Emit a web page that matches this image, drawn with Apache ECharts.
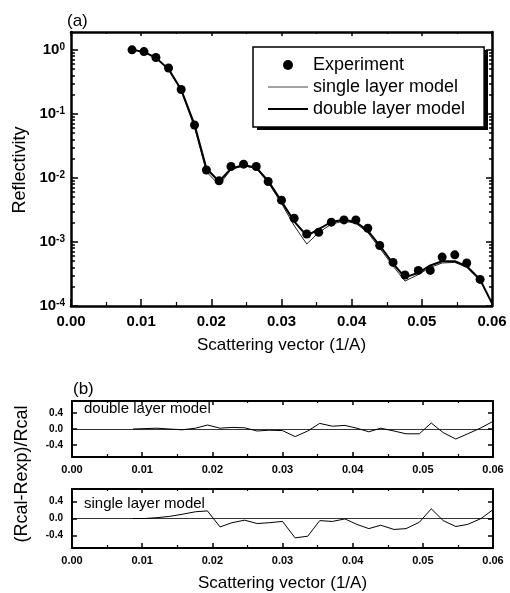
<!DOCTYPE html>
<html>
<head>
<meta charset="utf-8">
<script src="https://cdn.jsdelivr.net/npm/echarts@6/dist/echarts.min.js"></script>
<style>
  html, body { margin: 0; padding: 0; background: #fff; }
  #chart { width: 510px; height: 593px; }
</style>
</head>
<body>
<div id="chart"></div>
<script>
// Scattering vector of the measured points (1/A)
const qExp = [0.0087, 0.0104, 0.0121, 0.0139, 0.0157, 0.0176, 0.0193, 0.0211, 0.0228, 0.0246,
  0.0264, 0.0281, 0.0300, 0.0318, 0.0336, 0.0353, 0.0371, 0.0389, 0.0406, 0.0423,
  0.0440, 0.0459, 0.0476, 0.0495, 0.0512, 0.0529, 0.0547, 0.0564, 0.0583];
// Measured reflectivity
const rExp = [1.0, 0.94, 0.76, 0.52, 0.24, 0.067, 0.0133, 0.0090, 0.0151, 0.0164,
  0.0151, 0.0088, 0.0045, 0.00235, 0.00133, 0.00142, 0.00204, 0.00221, 0.00221, 0.00164,
  0.00088, 0.00048, 0.000305, 0.00036, 0.00036, 0.00058, 0.00063, 0.00047, 0.00026];
// Scattering vector of the model curves and residuals
const qModel = [0.0087, 0.0104, 0.0121, 0.0139, 0.0157, 0.0176, 0.0193, 0.0211, 0.0228, 0.0246,
  0.0264, 0.0281, 0.0300, 0.0318, 0.0336, 0.0353, 0.0371, 0.0389, 0.0406, 0.0423,
  0.0440, 0.0459, 0.0476, 0.0495, 0.0512, 0.0529, 0.0547, 0.0564, 0.0583, 0.0600];
const rSingle = [1.0, 0.93, 0.75, 0.50, 0.23, 0.062, 0.0125, 0.0078, 0.0135, 0.0155,
  0.0140, 0.0085, 0.0040, 0.0018, 0.00093, 0.00140, 0.00190, 0.00212, 0.00195, 0.00140,
  0.00080, 0.00042, 0.000245, 0.00031, 0.00040, 0.00047, 0.00048, 0.00040, 0.00025, 0.00011];
const rDouble = [1.0, 0.93, 0.75, 0.50, 0.24, 0.068, 0.0140, 0.0088, 0.0140, 0.0158,
  0.0145, 0.0090, 0.0043, 0.0021, 0.00125, 0.00158, 0.00205, 0.00222, 0.00205, 0.00150,
  0.00088, 0.00046, 0.00028, 0.00033, 0.00043, 0.00050, 0.00050, 0.00042, 0.00026, 0.00011];
// Relative residuals (Rcal-Rexp)/Rcal
const resDouble = [0.00, 0.01, 0.02, 0.00, -0.02, 0.02, 0.10, 0.02, 0.04, 0.03,
  -0.05, -0.03, -0.04, -0.19, -0.05, 0.14, 0.07, 0.09, 0.02, -0.07,
  0.02, -0.05, -0.12, -0.12, 0.15, -0.09, -0.25, -0.12, 0.03, 0.19];
const resSingle = [0.00, 0.00, 0.02, 0.05, 0.10, 0.16, 0.18, -0.20, -0.10, -0.04,
  -0.12, -0.10, -0.07, -0.46, -0.42, -0.05, -0.07, -0.01, -0.14, -0.24,
  -0.16, -0.26, -0.24, -0.09, 0.23, -0.05, -0.19, -0.14, 0.00, 0.21];

// Axis ticks
const decadeTicks = [1e-4, 1e-3, 1e-2, 1e-1, 1];
const minorMultipliers = [2, 3, 4, 5, 6, 7, 8, 9];
const minorLogTicks = [];
decadeTicks.slice(0, 4).forEach(d => minorMultipliers.forEach(m => minorLogTicks.push(+(d * m).toPrecision(3))));
const residualTicks = [-0.4, 0, 0.4];

const FONT = '"Liberation Sans", Arial, sans-serif';
const pairs = (xs, ys) => xs.map((x, i) => [x, ys[i]]);

const chart = echarts.init(document.getElementById('chart'), null, { renderer: 'canvas' });

function xAxisDef(gridIndex, position, opts) {
  const bottom = position === 'bottom';
  return Object.assign({
    type: 'value', gridIndex, position, min: 0, max: 0.06, interval: 0.01,
    splitLine: { show: false },
    axisLine: { onZero: false, lineStyle: { color: '#000', width: 2.5 } },
    axisTick: { inside: true, length: bottom ? 7 : 4, lineStyle: { color: '#000', width: 1.5 } },
    minorTick: { show: true, splitNumber: 2, length: bottom ? 4 : 2, lineStyle: { color: '#000', width: 1.2 } },
    axisLabel: bottom ? {
      margin: 8, color: '#000', fontFamily: FONT, fontSize: 15, fontWeight: 'bold',
      formatter: v => v.toFixed(2)
    } : { show: false }
  }, opts || {});
}

function logAxisDef(position, ticks, len, withLine, withLabels) {
  return {
    type: 'log', gridIndex: 0, position, min: 1e-4, max: 1.9, logBase: 10,
    splitLine: { show: false },
    axisLine: { show: withLine, onZero: false, lineStyle: { color: '#000', width: 2.5 } },
    axisTick: { inside: true, length: len, customValues: ticks, lineStyle: { color: '#000', width: 1.5 } },
    axisLabel: withLabels ? {
      customValues: decadeTicks, margin: 6, color: '#000', fontFamily: FONT,
      formatter: v => '{b|10}{e|' + Math.round(Math.log10(v)) + '}',
      rich: {
        b: { fontSize: 15, fontFamily: FONT, fontWeight: 'bold', color: '#000', lineHeight: 16 },
        e: { fontSize: 10, fontFamily: FONT, fontWeight: 'bold', color: '#000', verticalAlign: 'top', lineHeight: 10 }
      }
    } : { show: false }
  };
}

function resAxisDef(gridIndex, position, withLabels) {
  return {
    type: 'value', gridIndex, position, min: -0.7, max: 0.7,
    splitLine: { show: false },
    axisLine: { onZero: false, lineStyle: { color: '#000', width: 2 } },
    axisTick: { inside: true, length: 5, customValues: residualTicks, lineStyle: { color: '#000', width: 1.5 } },
    axisLabel: withLabels ? {
      customValues: residualTicks, margin: 9, color: '#000', fontFamily: FONT,
      fontSize: 10, fontWeight: 'bold', formatter: v => v.toFixed(1)
    } : { show: false }
  };
}

const smallX = { axisLine: { onZero: false, lineStyle: { color: '#000', width: 2 } } };
const smallBottomX = gi => xAxisDef(gi, 'bottom', Object.assign({}, smallX, {
  axisTick: { inside: true, length: 5, lineStyle: { color: '#000', width: 1.5 } },
  minorTick: { show: true, splitNumber: 2, length: 3, lineStyle: { color: '#000', width: 1.2 } },
  axisLabel: { margin: 7, color: '#000', fontFamily: FONT, fontSize: 11, fontWeight: 'bold', formatter: v => v.toFixed(2) }
}));
const smallTopX = gi => xAxisDef(gi, 'top', Object.assign({}, smallX, {
  axisTick: { inside: true, length: 4, lineStyle: { color: '#000', width: 1.5 } },
  minorTick: { show: true, splitNumber: 2, length: 2, lineStyle: { color: '#000', width: 1.2 } }
}));

const titleText = (text, x, y, size, rotate) => ({
  type: 'text', x, y, rotation: rotate ? Math.PI / 2 : 0,
  style: {
    text, fill: '#000', font: size + 'px ' + FONT,
    align: rotate ? 'center' : 'left', verticalAlign: 'middle',
    textAlign: rotate ? 'center' : 'left', textVerticalAlign: 'middle'
  }
});

const option = {
  animation: false,
  backgroundColor: '#fff',
  grid: [
    { left: 71, top: 32, width: 421, height: 274, outerBoundsMode: 'none' },
    { left: 72, top: 401, width: 421, height: 56, outerBoundsMode: 'none' },
    { left: 72, top: 489, width: 421, height: 59, outerBoundsMode: 'none' }
  ],
  xAxis: [
    xAxisDef(0, 'bottom', {
      name: 'Scattering vector (1/A)', nameLocation: 'middle', nameGap: 31,
      nameTextStyle: { color: '#000', fontFamily: FONT, fontSize: 17 }
    }),
    xAxisDef(0, 'top'),
    smallBottomX(1),
    smallTopX(1),
    Object.assign(smallBottomX(2), {
      name: 'Scattering vector (1/A)', nameLocation: 'middle', nameGap: 27,
      nameTextStyle: { color: '#000', fontFamily: FONT, fontSize: 17 }
    }),
    smallTopX(2)
  ],
  yAxis: [
    logAxisDef('left', decadeTicks, 7, true, true),
    logAxisDef('left', minorLogTicks, 4, false, false),
    logAxisDef('right', decadeTicks, 6, true, false),
    logAxisDef('right', minorLogTicks, 3, false, false),
    resAxisDef(1, 'left', true),
    resAxisDef(1, 'right', false),
    resAxisDef(2, 'left', true),
    resAxisDef(2, 'right', false)
  ],
  legend: {
    data: [
      { name: 'Experiment', icon: 'circle' },
      { name: 'single layer model', icon: 'path://M0,0H40V1H0Z', itemStyle: { color: '#444' } },
      { name: 'double layer model', icon: 'path://M0,0H40V2.2H0Z', itemStyle: { color: '#000' } }
    ],
    orient: 'vertical', left: 253, top: 47,
    itemWidth: 40, itemHeight: 10, itemGap: 4,
    padding: [9, 19, 9, 15],
    selectedMode: false,
    backgroundColor: '#fff', borderColor: '#000', borderWidth: 1.5, borderRadius: 0,
    textStyle: { color: '#000', fontFamily: FONT, fontSize: 18, lineHeight: 18 },
    z: 5
  },
  graphic: [
    // drop shadow behind the legend box
    { type: 'rect', z: 4, shape: { x: 257, y: 50, width: 231, height: 80 }, style: { fill: '#000' } },
    titleText('(a)', 67, 21, 17, false),
    titleText('(b)', 73, 389, 17, false),
    titleText('Reflectivity', 20, 170, 18, true),
    titleText('(Rcal-Rexp)/Rcal', 22, 474, 18, true),
    titleText('double layer model', 84, 409, 15, false),
    titleText('single layer model', 84, 504, 15, false)
  ],
  series: [
    {
      name: 'single layer model', type: 'line', xAxisIndex: 0, yAxisIndex: 0,
      data: pairs(qModel, rSingle), showSymbol: false, symbol: 'none',
      lineStyle: { color: '#222', width: 1 }, itemStyle: { color: '#222' }, z: 2
    },
    {
      name: 'double layer model', type: 'line', xAxisIndex: 0, yAxisIndex: 0,
      data: pairs(qModel, rDouble), showSymbol: false, symbol: 'none',
      lineStyle: { color: '#000', width: 2 }, itemStyle: { color: '#000' }, z: 3
    },
    {
      name: 'Experiment', type: 'scatter', xAxisIndex: 0, yAxisIndex: 0,
      data: pairs(qExp, rExp), symbol: 'circle', symbolSize: 9,
      itemStyle: { color: '#000', opacity: 1 }, z: 4
    },
    {
      name: 'double residual', type: 'line', xAxisIndex: 2, yAxisIndex: 4,
      data: pairs(qModel, resDouble), showSymbol: false, symbol: 'none',
      lineStyle: { color: '#000', width: 1 },
      markLine: {
        silent: true, symbol: 'none', label: { show: false },
        lineStyle: { color: '#000', width: 0.8, type: 'solid' },
        data: [{ yAxis: 0 }]
      }
    },
    {
      name: 'single residual', type: 'line', xAxisIndex: 4, yAxisIndex: 6,
      data: pairs(qModel, resSingle), showSymbol: false, symbol: 'none',
      lineStyle: { color: '#000', width: 1 },
      markLine: {
        silent: true, symbol: 'none', label: { show: false },
        lineStyle: { color: '#000', width: 0.8, type: 'solid' },
        data: [{ yAxis: 0 }]
      }
    }
  ]
};

chart.setOption(option);
</script>
</body>
</html>
